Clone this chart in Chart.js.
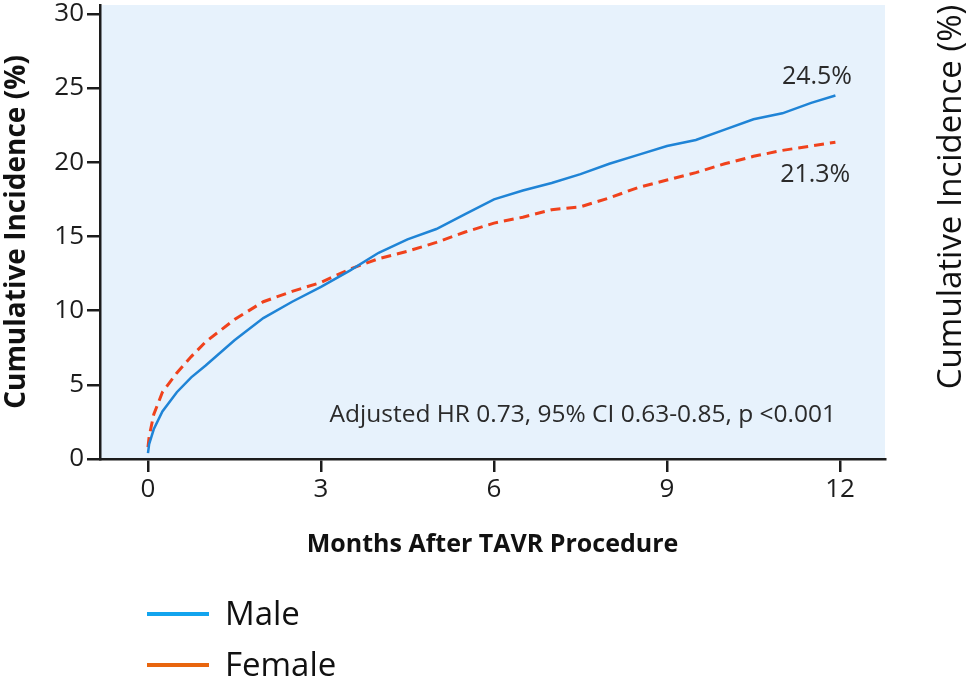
<!DOCTYPE html>
<html>
<head>
<meta charset="utf-8">
<script src="https://cdn.jsdelivr.net/npm/chart.js@4.4.1/dist/chart.umd.min.js"></script>
<style>
  html, body { margin: 0; padding: 0; background: #fff; }
  #wrap { width: 969px; height: 676px; position: relative; }
</style>
</head>
<body>
<div id="wrap"><canvas id="chart"></canvas></div>
<script>
// months after TAVR
const months = [0, 0.02, 0.1, 0.25, 0.5, 0.75, 1, 1.5, 2, 2.5, 3, 3.5, 4, 4.5, 5, 5.5, 6, 6.5, 7, 7.5, 8, 8.5, 9, 9.5, 10, 10.5, 11, 11.5, 11.92];
const male = [0.4, 1.0, 2.0, 3.2, 4.5, 5.5, 6.3, 8.0, 9.5, 10.6, 11.6, 12.7, 13.9, 14.8, 15.5, 16.5, 17.5, 18.1, 18.6, 19.2, 19.9, 20.5, 21.1, 21.5, 22.2, 22.9, 23.3, 24.0, 24.5];
const female = [0.8, 1.5, 3.0, 4.5, 5.8, 6.9, 7.9, 9.4, 10.6, 11.3, 11.9, 12.8, 13.5, 14.0, 14.6, 15.3, 15.9, 16.3, 16.8, 17.0, 17.6, 18.3, 18.8, 19.3, 19.9, 20.4, 20.8, 21.1, 21.35];
const xTicks = [0, 3, 6, 9, 12];
const yTicks = [0, 5, 10, 15, 20, 25, 30];
const seriesNames = ['Male', 'Female'];
const endLabels = ['24.5%', '21.3%'];
const statText = 'Adjusted HR 0.73, 95% CI 0.63-0.85, p <0.001';
const legendColors = ['#12a4ee', '#e8650e'];

const axisColor = '#1c1c1c';
const FONT = "'Open Sans', sans-serif";

const toPoints = ys => months.map((m, i) => ({ x: m, y: ys[i] }));

const paperPlugin = {
  id: 'paper',
  beforeDraw(chart) {
    const { ctx, chartArea: a } = chart;
    ctx.save();
    ctx.fillStyle = '#e7f2fc';
    ctx.fillRect(a.left, a.top, a.right - a.left, a.bottom - a.top);
    ctx.restore();
  },
  afterDraw(chart) {
    const { ctx } = chart;
    const xs = chart.scales.x, ys = chart.scales.y;
    ctx.save();
    ctx.fillStyle = '#2a2a2a';
    ctx.textAlign = 'center';
    ctx.textBaseline = 'middle';
    ctx.font = "25px " + FONT;
    ctx.fillText(endLabels[0], xs.getPixelForValue(11.6), ys.getPixelForValue(25.75));
    ctx.fillText(endLabels[1], xs.getPixelForValue(11.57), ys.getPixelForValue(19.15));
    ctx.font = "24.5px " + FONT;
    ctx.fillText(statText, xs.getPixelForValue(7.54), ys.getPixelForValue(2.97));

    // second y title, cut at the right edge
    ctx.save();
    ctx.translate(952, 197);
    ctx.rotate(-Math.PI / 2);
    ctx.fillStyle = '#111';
    ctx.font = "33px " + FONT;
    ctx.fillText('Cumulative Incidence (%)', 0, 0);
    ctx.restore();

    // legend
    const rows = [614, 665];
    chart.data.datasets.forEach((ds, i) => {
      ctx.strokeStyle = legendColors[i];
      ctx.lineWidth = 4;
      ctx.beginPath();
      ctx.moveTo(147, rows[i]);
      ctx.lineTo(209, rows[i]);
      ctx.stroke();
      ctx.fillStyle = '#111';
      ctx.textAlign = 'left';
      ctx.font = "33px " + FONT;
      ctx.fillText(ds.label, 225, rows[i] + 2);
    });
    ctx.restore();
  }
};

new Chart(document.getElementById('chart'), {
  type: 'line',
  data: {
    datasets: [
      {
        label: seriesNames[0],
        data: toPoints(male),
        borderColor: '#1f84d6',
        borderWidth: 2.5,
        pointRadius: 0,
        tension: 0
      },
      {
        label: seriesNames[1],
        data: toPoints(female),
        borderColor: '#f0421c',
        borderWidth: 3,
        borderDash: [10, 6],
        pointRadius: 0,
        tension: 0
      }
    ]
  },
  options: {
    responsive: true,
    maintainAspectRatio: false,
    animation: false,
    layout: { padding: { top: 5, right: 84, left: 0, bottom: 0 } },
    plugins: { legend: { display: false }, tooltip: { enabled: false } },
    scales: {
      x: {
        type: 'linear',
        min: -0.832,
        max: 12.78,
        afterBuildTicks: s => { s.ticks = xTicks.map(v => ({ value: v })); },
        afterFit: s => { s.height = 217; s.paddingLeft = 0; s.paddingRight = 0; },
        grid: { drawOnChartArea: false, drawTicks: true, tickLength: 13, color: axisColor, lineWidth: 2.5 },
        border: { display: true, color: axisColor, width: 2.5 },
        ticks: { color: '#1c1c1c', font: { family: FONT, size: 26 }, padding: 2, maxRotation: 0 },
        title: {
          display: true,
          text: 'Months After TAVR Procedure',
          color: '#111',
          font: { family: FONT, size: 25, weight: '700' },
          padding: { top: 0, bottom: 116 }
        }
      },
      y: {
        min: 0,
        max: 30.6,
        afterBuildTicks: s => { s.ticks = yTicks.map(v => ({ value: v })); },
        afterFit: s => { s.width = 100; s.paddingTop = 0; s.paddingBottom = 0; },
        grid: { drawOnChartArea: false, drawTicks: true, tickLength: 13, color: axisColor, lineWidth: 2.5 },
        border: { display: true, color: axisColor, width: 2.5 },
        ticks: { color: '#1c1c1c', font: { family: FONT, size: 26 }, padding: 3 },
        title: {
          display: true,
          text: 'Cumulative Incidence (%)',
          color: '#111',
          font: { family: FONT, size: 28, weight: '700' },
          padding: { top: 0, bottom: 0 }
        }
      }
    }
  },
  plugins: [paperPlugin]
});
</script>
</body>
</html>
